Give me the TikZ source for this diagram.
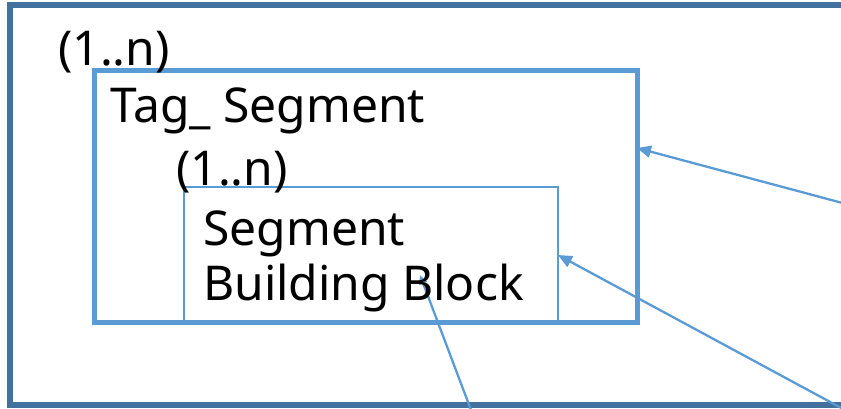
\documentclass[tikz,border=0pt]{standalone}
\usepackage{fontspec}
\setmainfont{Noto Sans}
\usetikzlibrary{arrows.meta}
\definecolor{outerblue}{HTML}{41719C}
\definecolor{boxblue}{HTML}{5B9BD5}
\tikzset{
  outerframe/.style={draw=outerblue, line width=5.5pt},
  tagbox/.style={draw=boxblue, line width=4.5pt},
  blockbox/.style={draw=boxblue, line width=1.8pt},
  lbl/.style={inner sep=0pt, anchor=base west, font=\fontsize{48}{58}\selectfont},
  pointer/.style={draw=boxblue, line width=2.3pt, -{Triangle[length=14pt,width=12pt]}},
}
\begin{document}
\begin{tikzpicture}[x=1pt,y=-1pt]
  \useasboundingbox (0,0) rectangle (841,408);
  % outer frame, running past the right edge
  \draw[outerframe] (900,5) -- (10,5) -- (10,405) -- (900,405);
  % nested containers
  \node[tagbox, minimum width=543pt, minimum height=252pt, anchor=north west, inner sep=0pt] (tag) at (92,68) {};
  \node[blockbox, minimum width=374pt, minimum height=136pt, anchor=north west, inner sep=0pt] (blk) at (183,186) {};
  % connector ends beyond the frame
  \coordinate (src1) at (850,205);
  \coordinate (src2) at (845,410);
  \coordinate (src3) at (471,410);
  \coordinate (t1) at (637,148);
  \coordinate (t2) at (558,255);
  \coordinate (t3) at (420,275);
  \draw[pointer] (src1) -- (t1);
  \draw[pointer] (src2) -- (t2);
  \draw[draw=boxblue, line width=2.3pt, -{Triangle[length=9pt,width=8pt]}] (src3) -- (t3);
  % labels
  \node[lbl] (m1) at (58,65) {(1..n)};
  \node[lbl] (tagtxt) at (110,122) {Tag\_ Segment};
  \node[lbl] (m2) at (176,185) {(1..n)};
  \node[lbl] (seg) at (203,245) {Segment};
  \node[lbl] (bb) at (203,300) {Building Block};
\end{tikzpicture}
\end{document}
